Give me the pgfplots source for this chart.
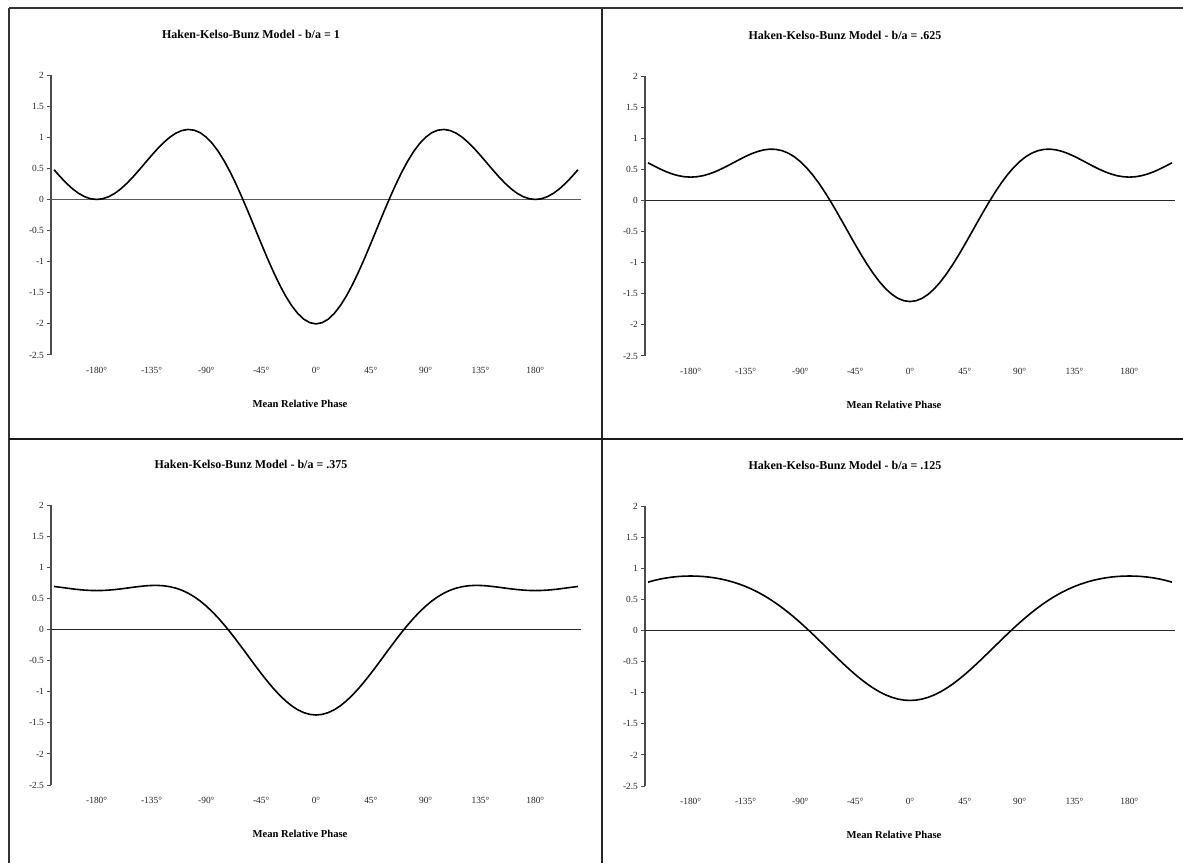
\documentclass[border=0pt]{standalone}
\usepackage{fontspec}
\setmainfont{Liberation Serif}
\usepackage{pgfplots}
\usepackage{pgfplotstable}
\pgfplotsset{compat=1.18}

\pgfplotstableread{
phi k1 k625 k375 k125
-215 0.47713 0.60539 0.69089 0.77640
-210 0.36603 0.55353 0.67853 0.80353
-205 0.26352 0.50457 0.66526 0.82596
-200 0.17365 0.46091 0.65242 0.84393
-195 0.09990 0.42466 0.64117 0.85768
-190 0.04512 0.39750 0.63243 0.86735
-185 0.01138 0.38068 0.62689 0.87309
-180 0 0.375 0.625 0.875
-175 0.01138 0.38068 0.62689 0.87309
-170 0.04512 0.39750 0.63243 0.86735
-165 0.09990 0.42466 0.64117 0.85768
-160 0.17365 0.46091 0.65242 0.84393
-155 0.26352 0.50457 0.66526 0.82596
-150 0.36603 0.55353 0.67853 0.80353
-145 0.47713 0.60539 0.69089 0.77640
-140 0.59239 0.65751 0.70092 0.74433
-135 0.70711 0.70711 0.70711 0.70711
-130 0.81644 0.75132 0.70791 0.66450
-125 0.91560 0.78734 0.70184 0.61633
-120 1 0.8125 0.6875 0.5625
-115 1.06541 0.82436 0.66367 0.50297
-110 1.10806 0.82080 0.62929 0.43778
-105 1.12485 0.80009 0.58358 0.36707
-100 1.11334 0.76096 0.52603 0.29111
-95 1.07197 0.70267 0.45646 0.21026
-90 1 0.625 0.375 0.125
-85 0.89765 0.52835 0.28214 0.03594
-80 0.76604 0.41366 0.17873 -0.05619
-75 0.60721 0.28245 0.06594 -0.15057
-70 0.42402 0.13676 -0.05475 -0.24626
-65 0.22017 -0.02088 -0.18157 -0.34227
-60 0 -0.1875 -0.3125 -0.4375
-55 -0.23156 -0.35982 -0.44532 -0.53083
-50 -0.46914 -0.53426 -0.57767 -0.62108
-45 -0.70711 -0.70711 -0.70711 -0.70711
-40 -0.93969 -0.87457 -0.83116 -0.78775
-35 -1.16117 -1.03291 -0.94741 -0.86190
-30 -1.36603 -1.17853 -1.05353 -0.92853
-25 -1.54910 -1.30805 -1.14736 -0.98666
-20 -1.70573 -1.41847 -1.22696 -1.03545
-15 -1.83196 -1.50720 -1.29069 -1.07418
-10 -1.92450 -1.57212 -1.33719 -1.10227
-5 -1.98100 -1.61170 -1.36549 -1.11929
0 -2 -1.625 -1.375 -1.125
5 -1.98100 -1.61170 -1.36549 -1.11929
10 -1.92450 -1.57212 -1.33719 -1.10227
15 -1.83196 -1.50720 -1.29069 -1.07418
20 -1.70573 -1.41847 -1.22696 -1.03545
25 -1.54910 -1.30805 -1.14736 -0.98666
30 -1.36603 -1.17853 -1.05353 -0.92853
35 -1.16117 -1.03291 -0.94741 -0.86190
40 -0.93969 -0.87457 -0.83116 -0.78775
45 -0.70711 -0.70711 -0.70711 -0.70711
50 -0.46914 -0.53426 -0.57767 -0.62108
55 -0.23156 -0.35982 -0.44532 -0.53083
60 0 -0.1875 -0.3125 -0.4375
65 0.22017 -0.02088 -0.18157 -0.34227
70 0.42402 0.13676 -0.05475 -0.24626
75 0.60721 0.28245 0.06594 -0.15057
80 0.76604 0.41366 0.17873 -0.05619
85 0.89765 0.52835 0.28214 0.03594
90 1 0.625 0.375 0.125
95 1.07197 0.70267 0.45646 0.21026
100 1.11334 0.76096 0.52603 0.29111
105 1.12485 0.80009 0.58358 0.36707
110 1.10806 0.82080 0.62929 0.43778
115 1.06541 0.82436 0.66367 0.50297
120 1 0.8125 0.6875 0.5625
125 0.91560 0.78734 0.70184 0.61633
130 0.81644 0.75132 0.70791 0.66450
135 0.70711 0.70711 0.70711 0.70711
140 0.59239 0.65751 0.70092 0.74433
145 0.47713 0.60539 0.69089 0.77640
150 0.36603 0.55353 0.67853 0.80353
155 0.26352 0.50457 0.66526 0.82596
160 0.17365 0.46091 0.65242 0.84393
165 0.09990 0.42466 0.64117 0.85768
170 0.04512 0.39750 0.63243 0.86735
175 0.01138 0.38068 0.62689 0.87309
180 0 0.375 0.625 0.875
185 0.01138 0.38068 0.62689 0.87309
190 0.04512 0.39750 0.63243 0.86735
195 0.09990 0.42466 0.64117 0.85768
200 0.17365 0.46091 0.65242 0.84393
205 0.26352 0.50457 0.66526 0.82596
210 0.36603 0.55353 0.67853 0.80353
215 0.47713 0.60539 0.69089 0.77640
}\hkbdata

\newcommand{\tickfont}{\fontsize{4.7}{5.5}\selectfont}
\newcommand{\titlefont}{\bfseries\fontsize{6}{7}\selectfont}
\newcommand{\labfont}{\bfseries\fontsize{5.3}{6.3}\selectfont}

\pgfplotsset{
  hkb/.style={
    scale only axis, width=265pt, height=140pt,
    xmin=-217.5, xmax=217.5, ymin=-2.5, ymax=2,
    axis x line*=bottom, axis y line*=left,
    x axis line style={draw=none},
    xtick={-180,-135,-90,-45,0,45,90,135,180},
    xticklabels={-180°,-135°,-90°,-45°,0°,45°,90°,135°,180°},
    xtick style={draw=none},
    ytick={-2.5,-2,-1.5,-1,-0.5,0,0.5,1,1.5,2},
    yticklabels={-2.5,-2,-1.5,-1,-0.5,0,0.5,1,1.5,2},
    y axis line style={black!70, line width=0.6pt},
    ytick style={black!70, line width=0.5pt},
    tick align=outside, major tick length=2pt,
    ticklabel style={font=\tickfont, text=black!85},
    xticklabel style={anchor=center, yshift=-5.5pt},
    yticklabel style={xshift=2pt},
    title style={at={(axis description cs:0,1)}, anchor=center, xshift=100pt, yshift=14.5pt, font=\titlefont},
    xlabel={Mean Relative Phase},
    xlabel style={at={(axis description cs:0,0)}, anchor=center, xshift=124.5pt, yshift=-24.5pt, font=\labfont},
    clip=false,
  },
  curve/.style={black, line width=0.8pt},
  zero/.style={black!85, line width=0.85pt},
}

\begin{document}
\begin{tikzpicture}
\useasboundingbox (0,0) rectangle (591.5pt,431.5pt);
\fill[white] (0,0) rectangle (591.5pt,431.5pt);
% panel frames
\draw[black!80, line width=1pt] (4.5pt,427.5pt) -- (591.5pt,427.5pt);
\draw[black!80, line width=1pt] (4.5pt,427.5pt) -- (4.5pt,0pt);
\draw[black!85, line width=1.1pt] (301pt,427.5pt) -- (301pt,0pt);
\draw[black!90, line width=1pt] (4.5pt,212pt) -- (591.5pt,212pt);

\begin{axis}[hkb, at={(25.5pt,254pt)}, anchor=south west,
  title={Haken-Kelso-Bunz Model - b/a = 1}]
\addplot[black!65, line width=0.85pt] coordinates {(-217.5,0) (217.5,0)};
\addplot[curve] table[x=phi, y=k1] {\hkbdata};
\end{axis}

\begin{axis}[hkb, at={(322.5pt,253.5pt)}, anchor=south west,
  title={Haken-Kelso-Bunz Model - b/a = .625}]
\addplot[zero] coordinates {(-217.5,0) (217.5,0)};
\addplot[curve] table[x=phi, y=k625] {\hkbdata};
\end{axis}

\begin{axis}[hkb, at={(25.5pt,39pt)}, anchor=south west,
  title={Haken-Kelso-Bunz Model - b/a = .375}]
\addplot[zero] coordinates {(-217.5,0) (217.5,0)};
\addplot[curve] table[x=phi, y=k375] {\hkbdata};
\end{axis}

\begin{axis}[hkb, at={(322.5pt,38.5pt)}, anchor=south west,
  title={Haken-Kelso-Bunz Model - b/a = .125}]
\addplot[zero] coordinates {(-217.5,0) (217.5,0)};
\addplot[curve] table[x=phi, y=k125] {\hkbdata};
\end{axis}
\end{tikzpicture}
\end{document}
